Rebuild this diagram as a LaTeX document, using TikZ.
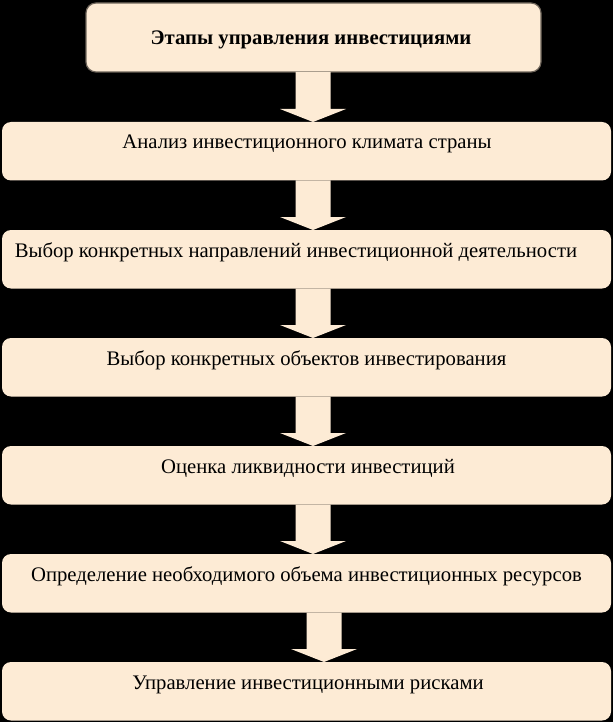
\documentclass[tikz,border=0pt]{standalone}
\usepackage{fontspec}
\setmainfont{Liberation Serif}
\usetikzlibrary{calc}
\definecolor{beige}{RGB}{253,235,213}
\definecolor{frame}{RGB}{110,100,90}
\newcommand\blkarrow[3]{\fill[beige] let \p1=(#1.south), \p2=(#2.north) in
  ({#3pt-17.5pt},\y1) -- ({#3pt+17.5pt},\y1) -- ({#3pt+17.5pt},\y2+13pt) --
  ({#3pt+33pt},\y2+13pt) -- (#3pt,\y2) -- ({#3pt-33pt},\y2+13pt) --
  ({#3pt-17.5pt},\y2+13pt) -- cycle;}
\begin{document}
\begin{tikzpicture}[x=1pt,y=-1pt,
  stage/.style={fill=beige,rounded corners=9pt,inner sep=0pt,outer sep=0pt,
    minimum width=609pt,minimum height=58.5pt,anchor=north},
  titlebox/.style={fill=beige,draw=frame,line width=1.2pt,rounded corners=10pt,
    inner sep=0pt,outer sep=0pt,minimum width=455pt,minimum height=69pt,anchor=north},
  label/.style={anchor=base,inner sep=0pt,font=\fontsize{20.7}{25}\selectfont},
  titlelabel/.style={anchor=base,inner sep=0pt,font=\fontsize{20.7}{25}\selectfont\bfseries}]
\useasboundingbox (0,0) rectangle (613,722);
\fill[black] (0,0) rectangle (613,722);
\node[titlebox] (b1) at (313.5,3) {};
\node[stage] (b2) at (306.5,122) {};
\node[stage] (b3) at (306.5,230) {};
\node[stage] (b4) at (306.5,338) {};
\node[stage] (b5) at (306.5,446) {};
\node[stage] (b6) at (306.5,554) {};
\node[stage] (b7) at (306.5,662) {};
\node[titlelabel] (t1) at (311,45) {Этапы управления инвестициями};
\node[label] (t2) at (307,149) {Анализ инвестиционного климата страны};
\node[label] (t3) at (296,257) {Выбор конкретных направлений инвестиционной деятельности};
\node[label] (t4) at (306.5,365) {Выбор конкретных объектов инвестирования};
\node[label] (t5) at (308,473) {Оценка ликвидности инвестиций};
\node[label] (t6) at (306.5,581) {Определение необходимого объема инвестиционных ресурсов};
\node[label] (t7) at (308,689) {Управление инвестиционными рисками};
\blkarrow{b1}{b2}{313}
\blkarrow{b2}{b3}{313}
\blkarrow{b3}{b4}{313}
\blkarrow{b4}{b5}{313}
\blkarrow{b5}{b6}{313}
\blkarrow{b6}{b7}{324}
\end{tikzpicture}
\end{document}
